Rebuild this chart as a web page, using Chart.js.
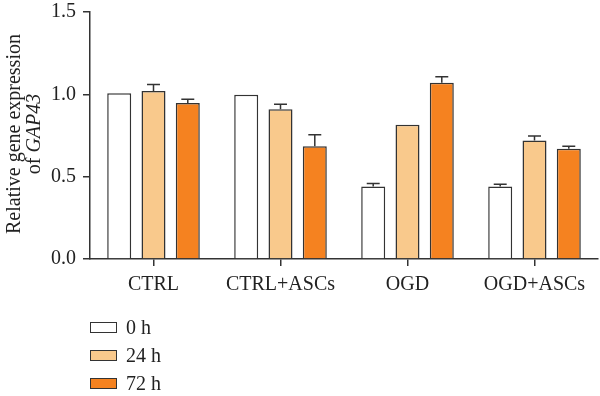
<!DOCTYPE html>
<html>
<head>
<meta charset="utf-8">
<script src="https://cdn.jsdelivr.net/npm/chart.js@4/dist/chart.umd.min.js"></script>
<style>
  body { margin: 0; background: #fff; }
  #wrap { position: relative; width: 600px; height: 396px; font-family: 'Liberation Serif', 'DejaVu Serif', serif; color: #222; }
  #ytitle { position: absolute; left: 23px; top: 134px; width: 300px; transform: translate(-50%, -50%) rotate(-90deg); text-align: center; font-size: 20px; line-height: 20px; }
  .leg { position: absolute; left: 90px; height: 28px; display: flex; align-items: center; font-size: 20px; }
  .leg span.box { display: inline-block; width: 25px; height: 9px; border: 1.5px solid #333; margin-right: 9px; }
</style>
</head>
<body>
<div id="wrap">
  <canvas id="grafico" width="600" height="396"></canvas>
  <div id="ytitle">Relative gene expression<br>of <i>GAP43</i></div>
  <div id="legenda"></div>
</div>
<script>
const grupos = ['CTRL', 'CTRL+ASCs', 'OGD', 'OGD+ASCs'];
const series = ['0 h', '24 h', '72 h'];
const horas0 = [1.006, 0.998, 0.44, 0.44];
const horas24 = [1.02, 0.91, 0.815, 0.72];
const horas72 = [0.947, 0.684, 1.07, 0.67];
const erro0 = [0, 0, 0.018, 0.014];
const erro24 = [0.04, 0.03, 0, 0.027];
const erro72 = [0.023, 0.07, 0.037, 0.014];
const cores = ['#ffffff', '#f9c98c', '#f58220'];

// barras de erro (só a parte de cima, com traço)
const barrasErro = {
    id: 'barrasErro',
    afterDatasetsDraw(chart) {
        const ctx = chart.ctx;
        const y = chart.scales.y;
        chart.data.datasets.forEach(function(ds, d){
            const meta = chart.getDatasetMeta(d);
            meta.data.forEach(function(bar, i){
                const e = ds.erro[i];
                if (!e) return;
                const topo = y.getPixelForValue(ds.data[i] + e);
                const meia = bar.width * 0.27;
                ctx.save();
                ctx.strokeStyle = '#333';
                ctx.lineWidth = 1.5;
                ctx.beginPath();
                ctx.moveTo(bar.x, bar.y);
                ctx.lineTo(bar.x, topo);
                ctx.moveTo(bar.x - meia, topo);
                ctx.lineTo(bar.x + meia, topo);
                ctx.stroke();
                ctx.restore();
            });
        });
    }
};

const fonte = {family: "'Liberation Serif', 'DejaVu Serif', serif", size: 20};

var chart = new Chart(document.getElementById('grafico').getContext('2d'), {
    type: 'bar',
    data: {
        labels: grupos,
        datasets: [
            {label: series[0], data: horas0, erro: erro0, backgroundColor: cores[0]},
            {label: series[1], data: horas24, erro: erro24, backgroundColor: cores[1]},
            {label: series[2], data: horas72, erro: erro72, backgroundColor: cores[2]}
        ]
    },
    options: {
        responsive: false,
        animation: false,
        layout: {padding: {top: 12, right: 2, left: 0, bottom: 0}},
        datasets: {
            bar: {
                borderColor: '#333',
                borderWidth: 1.5,
                categoryPercentage: 0.81,
                barPercentage: 0.7
            }
        },
        scales: {
            x: {
                grid: {offset: false, drawOnChartArea: false, tickLength: 7, color: '#333', lineWidth: 1.5},
                border: {color: '#333', width: 1.5},
                ticks: {font: fonte, color: '#222', padding: 7},
                afterFit: function(scale){ scale.height = 137; scale.paddingLeft = 0; scale.paddingRight = 0; }
            },
            y: {
                min: 0,
                max: 1.5,
                grid: {drawOnChartArea: false, tickLength: 7, color: '#333', lineWidth: 1.5},
                border: {color: '#333', width: 1.5},
                ticks: {stepSize: 0.5, font: fonte, color: '#222', padding: 7,
                    callback: function(v){ return v.toFixed(1); }},
                afterFit: function(scale){ scale.width = 90; scale.paddingTop = 0; scale.paddingBottom = 0; }
            }
        },
        plugins: {
            legend: {display: false},
            tooltip: {enabled: false}
        }
    },
    plugins: [barrasErro]
});

// legenda em coluna, embaixo à esquerda
const legenda = document.getElementById('legenda');
chart.data.datasets.forEach(function(ds, i){
    const item = legenda.appendChild(document.createElement('div'));
    item.className = 'leg';
    item.style.top = (313 + i * 28) + 'px';
    item.innerHTML = '<span class="box" style="background:' + ds.backgroundColor + '"></span>' + ds.label;
});
</script>
</body>
</html>
